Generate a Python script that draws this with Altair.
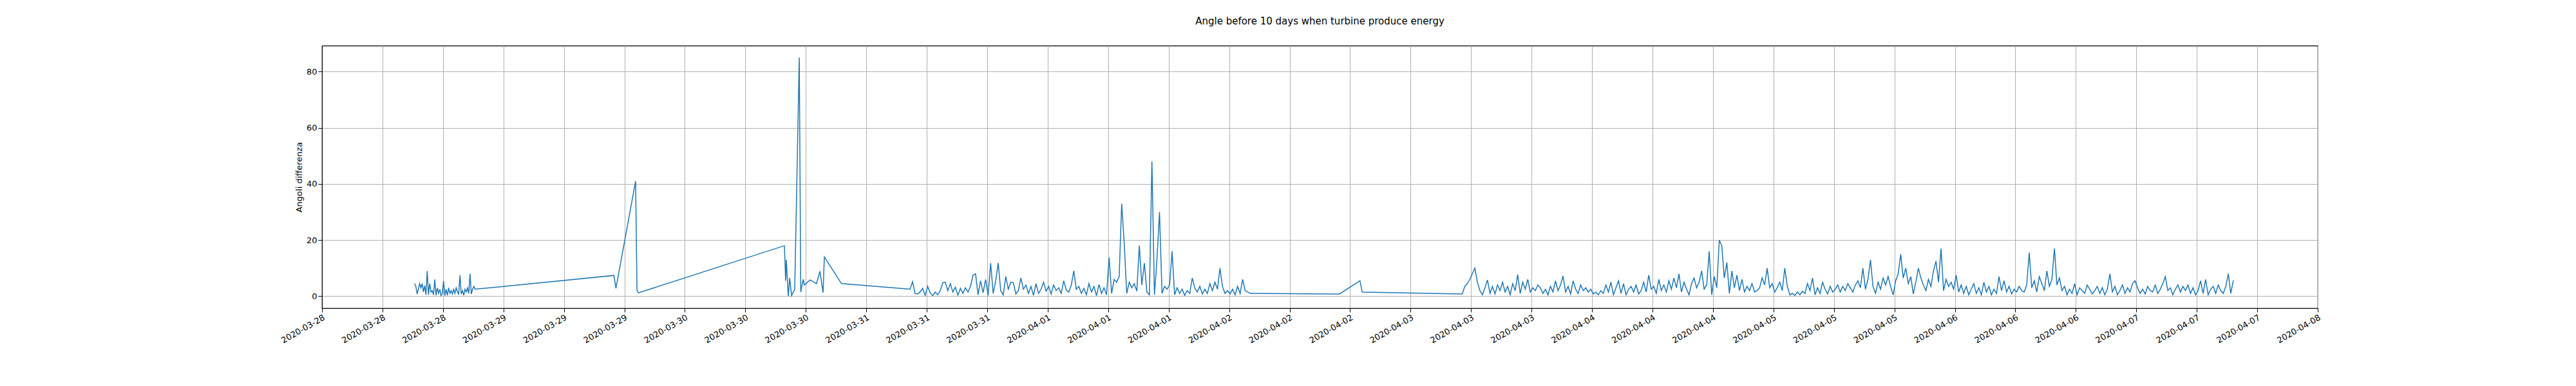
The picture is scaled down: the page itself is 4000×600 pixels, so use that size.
import altair as alt
import pandas as pd

# Segment 1: dense readings, 10-minute sampling
seg1_start = "2020-03-28 12:15"
seg1_vals = [4.5, 3.5, 0.8, 2.5, 4.5, 3.0, 4.5, 1.5, 3.8, 0.5,
             9.0, 0.5, 4.5, 1.5, 2.0, 0.5, 6.0, 0.3, 3.0, 1.0,
             2.5, 0.2, 1.0, 5.5, 0.2, 2.5, 0.3, 3.0, 1.0, 2.0,
             0.8, 2.5, 1.0, 3.0, 1.5, 0.8, 7.5, 0.8, 2.0, 0.3,
             2.5, 1.5, 3.0, 1.0, 8.0, 0.8, 2.5, 3.5, 2.5]

# Sparse readings
mid_times = ["2020-03-29 14:37", "2020-03-29 14:53", "2020-03-29 17:29", "2020-03-29 17:40",
             "2020-03-29 17:52", "2020-03-30 13:10", "2020-03-30 13:20", "2020-03-30 13:25",
             "2020-03-30 13:41", "2020-03-30 13:52", "2020-03-30 14:07", "2020-03-30 14:32",
             "2020-03-30 15:08", "2020-03-30 15:20", "2020-03-30 15:39", "2020-03-30 15:49",
             "2020-03-30 16:35", "2020-03-30 17:25", "2020-03-30 17:52", "2020-03-30 18:17",
             "2020-03-30 18:27", "2020-03-30 20:43"]
mid_vals = [7.4, 2.8, 41.0, 2.0, 1.2, 18.0, 5.5, 13.0, 0.0, 6.5, 0.2, 2.5,
            85.0, 1.5, 6.0, 4.0, 5.8, 4.5, 8.9, 1.3, 14.0, 4.5]

# Segment A: 20-minute sampling
segA_start = "2020-03-31 05:47"
segA_vals = [2.5, 5.2, 1.0, 0.8, 1.5, 2.8, 0.3, 3.5, 1.2, 0.2,
             1.5, 0.5, 2.0, 4.8, 5.0, 2.0, 4.5, 1.5, 3.2, 0.4,
             2.8, 1.0, 3.0, 1.5, 3.5, 7.5, 8.0, 0.5, 5.5, 1.2,
             6.0, 0.3, 11.8, 1.0, 5.5, 11.8, 2.0, 0.5, 7.0, 2.5,
             5.0, 4.8, 0.8, 2.0, 6.5, 2.5, 4.0, 1.0, 3.5, 0.3,
             4.5, 1.0, 2.5, 5.0, 1.8, 3.5, 0.8, 4.0, 2.0, 3.0,
             1.0, 5.5, 2.2, 1.5, 4.0, 9.0, 2.5, 3.5, 1.0, 2.8,
             0.5, 4.5, 1.5, 3.5, 0.2, 4.2, 1.0, 3.0, 0.5, 13.8,
             1.0, 6.0, 5.0, 7.0, 33.0, 19.0, 1.0, 5.0, 3.0, 4.5,
             1.8, 18.0, 4.0, 11.8, 1.5, 0.5, 48.0, 0.5, 13.0, 30.0,
             1.0, 3.5, 2.5, 4.0, 16.0, 0.5, 3.0, 1.0, 2.5, 0.3,
             2.0, 1.0, 6.5, 3.0, 1.5, 3.5, 0.8, 2.5, 1.0, 4.5,
             2.0, 5.0, 2.5, 10.0, 3.5, 1.0, 2.0, 0.8, 2.5, 0.5,
             3.5, 1.0, 6.0, 2.0, 1.5, 1.0]

gap_times = ["2020-04-02 14:36", "2020-04-02 17:18", "2020-04-02 17:36"]
gap_vals = [0.8, 5.5, 1.5]

# Segment B: 20-minute sampling
segB_start = "2020-04-03 06:50"
segB_vals = [0.8, 3.5, 4.5, 6.0, 8.0, 10.0, 5.0, 2.0, 0.5, 3.0, 5.8,
             1.0, 3.5, 0.8, 4.0, 2.0, 5.0, 1.5, 3.5, 0.5, 4.5,
             2.0, 7.7, 1.0, 5.0, 2.5, 6.0, 1.5, 3.0, 2.0, 4.0,
             3.0, 1.0, 2.5, 0.5, 3.5, 1.5, 5.5, 2.0, 4.0, 7.2,
             1.5, 3.5, 0.8, 5.5, 2.5, 1.0, 4.0, 2.0, 3.0, 1.5,
             2.5, 0.8, 1.5, 0.5, 2.0, 1.0, 4.0, 1.5, 5.0, 0.5,
             3.0, 5.5, 1.0, 4.5, 0.5, 2.5, 3.5, 1.5, 4.0, 0.8,
             2.0, 5.0, 1.5, 7.5, 2.5, 3.5, 1.0, 6.0, 2.0, 4.0,
             1.5, 5.5, 2.5, 6.5, 3.0, 8.0, 1.5, 5.0, 2.5, 0.5,
             4.5, 6.5, 3.0, 5.0, 9.0, 2.5, 4.0, 16.0, 0.5, 7.0,
             3.0, 20.0, 18.0, 6.5, 12.0, 1.0, 9.0, 3.0, 7.5, 2.0,
             6.0, 1.5, 3.5, 2.0, 4.5, 1.5, 2.0, 3.0, 6.5, 4.0,
             10.0, 3.0, 4.5, 1.5, 3.0, 5.0, 2.0, 10.0, 3.5, 0.5,
             1.0, 0.3, 1.5, 0.5, 1.8, 1.0, 4.5, 2.0, 6.5, 0.5,
             3.0, 1.0, 5.0, 2.5, 0.8, 3.5, 1.5, 2.5, 4.0, 1.5,
             3.5, 2.0, 4.5, 3.0, 1.5, 4.0, 5.5, 3.0, 10.0, 2.5,
             6.0, 13.0, 3.5, 1.0, 5.0, 2.5, 6.5, 4.0, 7.0, 3.5,
             0.5, 5.5, 8.0, 15.0, 6.5, 10.0, 4.5, 7.0, 0.8, 5.0,
             10.0, 6.5, 4.0, 2.0, 6.0, 3.5, 9.0, 12.5, 5.0, 17.0,
             2.0, 6.0, 3.5, 5.0, 2.5, 7.5, 1.5, 4.0, 1.0, 3.5,
             0.5, 2.5, 4.5, 1.0, 3.0, 0.5, 5.0, 1.5, 3.5, 0.5,
             2.5, 1.0, 7.0, 2.0, 5.5, 1.5, 3.5, 0.8, 2.5, 1.5,
             3.5, 2.0, 1.5, 4.0, 15.5, 3.0, 5.5, 1.5, 7.0, 4.5,
             2.0, 9.0, 3.5, 6.0, 17.0, 4.0, 6.5, 2.0, 3.5, 0.5,
             2.5, 1.0, 4.5, 0.5, 3.0, 2.0, 1.0, 4.0, 2.5, 0.8,
             2.0, 3.5, 1.0, 3.0, 0.5, 2.5, 8.0, 1.5, 3.5, 0.5,
             2.0, 4.0, 1.0, 3.0, 1.5, 4.5, 5.5, 3.0, 1.0, 2.5,
             0.8, 3.5, 2.0, 1.5, 4.0, 1.0, 2.5, 4.5, 7.0, 2.0,
             3.0, 0.5, 2.5, 4.0, 1.5, 3.5, 2.0, 4.0, 1.0, 3.0,
             0.5, 2.0, 5.5, 1.0, 6.0, 0.5, 2.5, 3.5, 1.0, 4.0,
             2.0, 1.0, 3.5, 8.0, 1.0, 5.7]

tick_values = list(pd.date_range("2020-03-28 00:00", "2020-04-08 00:00", freq="8h").strftime("%Y-%m-%dT%H:%M:%S"))

times = (list(pd.date_range(seg1_start, periods=len(seg1_vals), freq="10min"))
         + list(pd.to_datetime(mid_times))
         + list(pd.date_range(segA_start, periods=len(segA_vals), freq="20min"))
         + list(pd.to_datetime(gap_times))
         + list(pd.date_range(segB_start, periods=len(segB_vals), freq="20min")))
vals = seg1_vals + mid_vals + segA_vals + gap_vals + segB_vals
df = pd.DataFrame({"t": [x.strftime("%Y-%m-%dT%H:%M:%S") for x in times], "v": vals})

chart = alt.Chart(df).mark_line(color="#1f77b4", strokeWidth=1.5).encode(
    x=alt.X("t:T", title=None,
            scale=alt.Scale(domain=["2020-03-28T00:00:00", "2020-04-08T00:00:00"], nice=False),
            axis=alt.Axis(values=tick_values, format="%Y-%m-%d", labelAngle=-30, labelAlign="right",
                          labelBaseline="top", grid=True, gridColor="#b0b0b0", tickColor="black",
                          domainColor="black", labelColor="black", labelFontSize=13, tickSize=6,
                          labelFont="DejaVu Sans", labelOverlap=False)),
    y=alt.Y("v:Q", title="Angoli differenza",
            scale=alt.Scale(domain=[-4.25, 89.25], nice=False, zero=False),
            axis=alt.Axis(values=[0, 20, 40, 60, 80], grid=True, gridColor="#b0b0b0", tickColor="black",
                          domainColor="black", labelColor="black", labelFontSize=13, tickSize=6,
                          labelFont="DejaVu Sans", titleFont="DejaVu Sans", titleFontSize=13,
                          titleFontWeight="normal", titleColor="black")),
).properties(
    width=3099, height=408,
    title=alt.TitleParams("Angle before 10 days when turbine produce energy", font="DejaVu Sans",
                          fontSize=15, fontWeight="normal", color="black", anchor="middle", offset=30),
    autosize=alt.AutoSizeParams(type="none"),
    padding={"left": 492, "top": 63, "right": 10, "bottom": 110},
).configure_view(stroke="black", strokeWidth=1.2)

chart.save("out.html", embed_options={"renderer": "svg", "actions": False})
